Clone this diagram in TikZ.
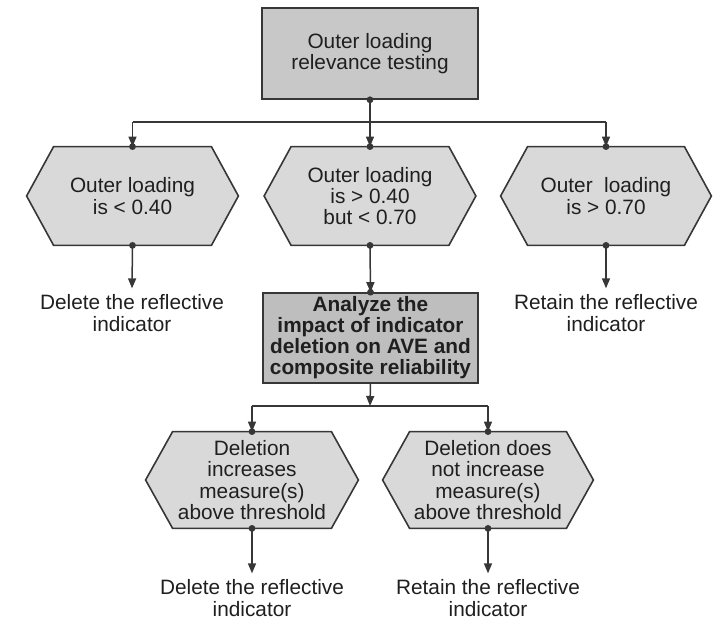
\documentclass[tikz,border=0pt]{standalone}
\usepackage{fontspec}
\setmainfont{Liberation Sans}
\usetikzlibrary{arrows.meta,backgrounds}
\definecolor{boxgray}{RGB}{200,200,200}
\definecolor{darkbox}{RGB}{190,190,190}
\definecolor{hexgray}{RGB}{217,217,217}
\definecolor{edge}{RGB}{55,55,55}
\newcommand\hexshape[1]{%
  \filldraw[hexgray,draw=edge,line width=0.8pt,line join=miter]
    (#1.west) -- ([xshift=13.5pt]#1.north west) -- ([xshift=-13.5pt]#1.north east)
    -- (#1.east) -- ([xshift=-13.5pt]#1.south east) -- ([xshift=13.5pt]#1.south west) -- cycle;}
\begin{document}
\begin{tikzpicture}[x=0.5pt,y=-0.5pt,
  txt/.style={font=\fontsize{10.4}{10.6}\selectfont, align=center, inner sep=0pt, text=black!88},
  rectbox/.style={txt, draw=edge, line width=0.8pt, fill=boxgray, minimum width=108pt, minimum height=45.5pt},
  hexbox/.style={txt, minimum width=105.5pt, minimum height=49pt},
  result/.style={txt, inner ysep=3pt},
  conn/.style={draw=edge, line width=0.75pt},
  arr/.style={conn, -{Triangle[length=5pt,width=4pt]}},
  dot/.style={fill=edge}]
\useasboundingbox (0,0) rectangle (713,630);

% nodes
\node[rectbox] (top) at (370,53.5) {Outer loading\\relevance testing};
\node[hexbox] (h1) at (132.5,196) {Outer loading\\is < 0.40};
\node[hexbox] (h2) at (370,196) {Outer loading\\is > 0.40\\but < 0.70};
\node[hexbox, minimum width=105pt] (h3) at (606,196) {Outer\ \ loading\\is > 0.70};
\node[result] (t1) at (132,313) {Delete the reflective\\indicator};
\node[result] (t3) at (606,313) {Retain the reflective\\indicator};
\node[rectbox, fill=darkbox, minimum width=107.5pt, minimum height=45pt,
      font=\fontsize{10.4}{10.5}\selectfont\bfseries] (an) at (370.5,338)
      {Analyze the\\impact of indicator\\deletion on AVE and\\composite reliability};
\node[hexbox, minimum width=106pt, minimum height=48pt] (h4) at (252,480)
      {Deletion\\increases\\measure(s)\\above threshold};
\node[hexbox, minimum width=105pt, minimum height=48pt] (h5) at (488,480)
      {Deletion does\\not increase\\measure(s)\\above threshold};
\node[result] (t4) at (252,598) {Delete the reflective\\indicator};
\node[result] (t5) at (488,598) {Retain the reflective\\indicator};

\begin{pgfonlayer}{background}
  \hexshape{h1}\hexshape{h2}\hexshape{h3}\hexshape{h4}\hexshape{h5}
\end{pgfonlayer}

\coordinate (bar1) at (370,122);
\coordinate (bar2) at (370,406);

% connectors
\draw[conn] (h1.north |- bar1) -- (h3.north |- bar1);
\draw[arr] (top.south) -- (h2.north);
\draw[arr] (h1.north |- bar1) -- (h1.north);
\draw[arr] (h3.north |- bar1) -- (h3.north);
\draw[arr] (h1.south) -- (t1.north);
\draw[arr] (h3.south) -- (t3.north);
\draw[arr] (h2.south) -- (an.north);
\draw[arr] (an.south) -- (bar2);
\draw[conn] (h4.north |- bar2) -- (h5.north |- bar2);
\draw[arr] (h4.north |- bar2) -- (h4.north);
\draw[arr] (h5.north |- bar2) -- (h5.north);
\draw[arr] (h4.south) -- (t4.north);
\draw[arr] (h5.south) -- (t5.north);

% dots
\foreach \p in {top.south,h1.north,h2.north,h3.north,h1.south,h2.south,h3.south,an.north,h4.north,h5.north,h4.south,h5.south}
  \fill[dot] (\p) circle (1.7pt);
\end{tikzpicture}
\end{document}
